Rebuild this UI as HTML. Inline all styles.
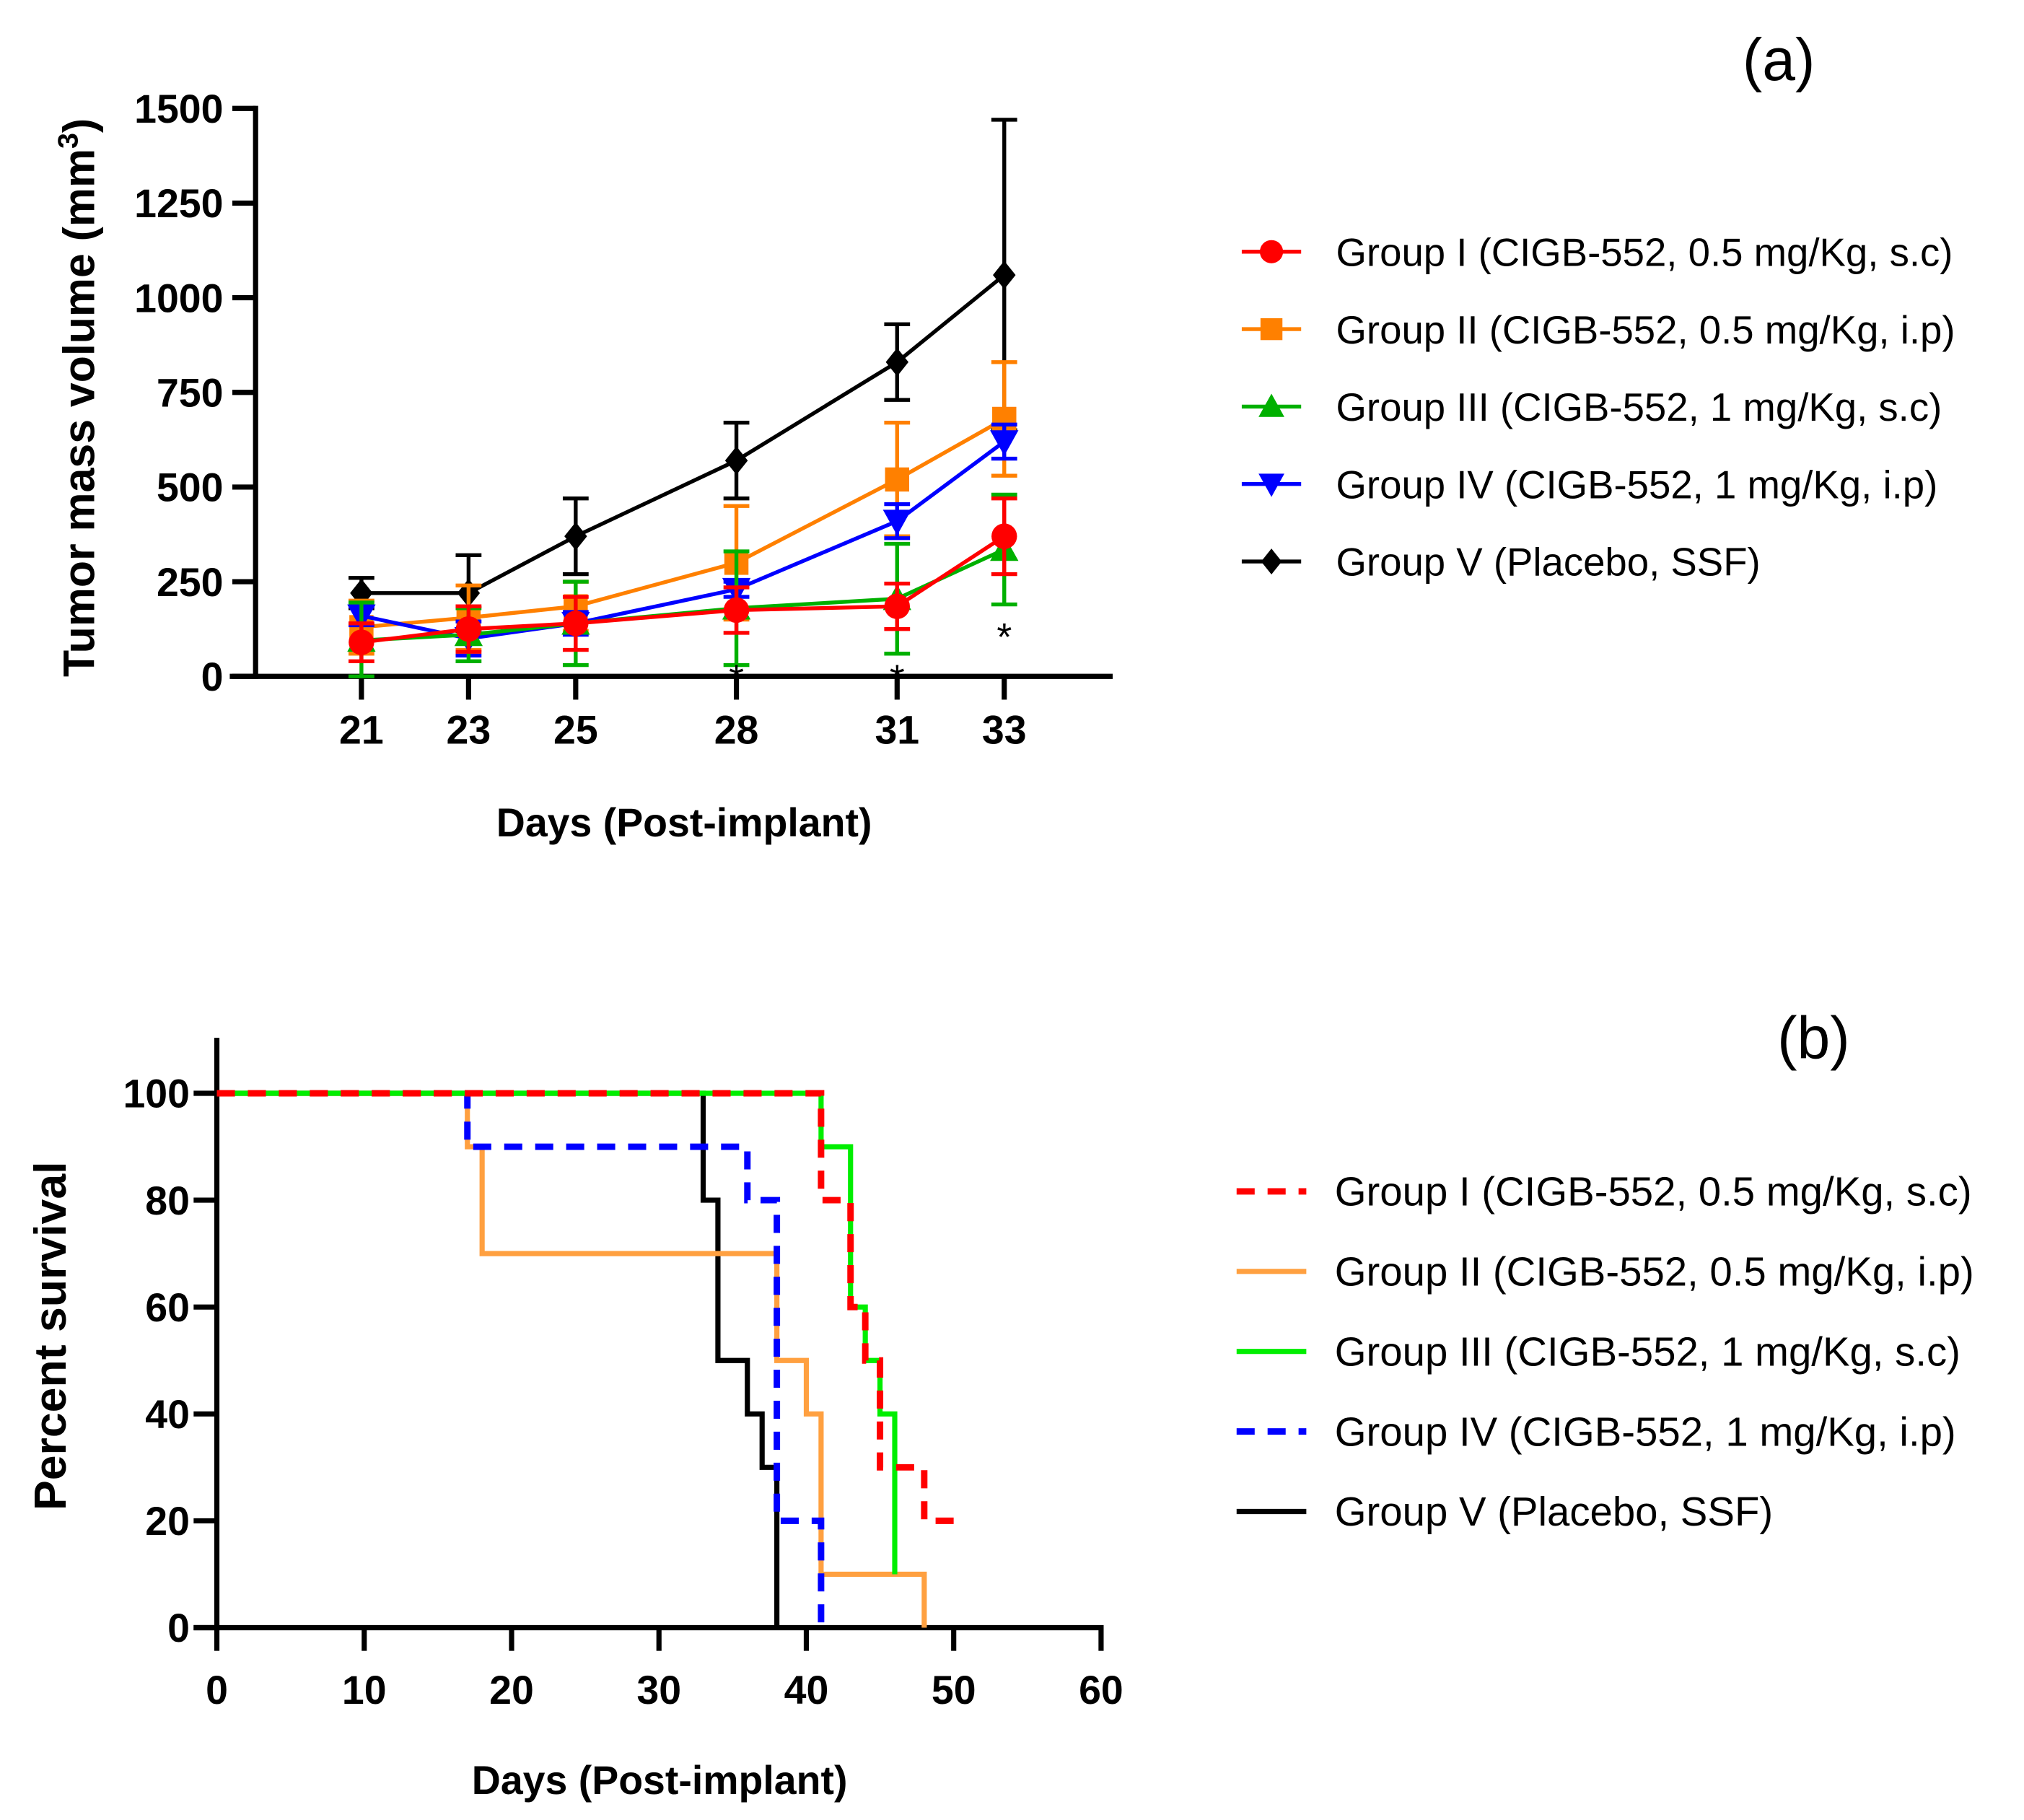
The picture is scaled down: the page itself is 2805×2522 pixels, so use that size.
<!DOCTYPE html>
<html><head><meta charset="utf-8"><style>
html,body{margin:0;padding:0;background:#fff}
svg{display:block}
text{font-family:"Liberation Sans",Arial,sans-serif}
</style></head><body>
<svg id="fig" width="2805" height="2522" viewBox="0 0 1568 1410" preserveAspectRatio="none" xmlns="http://www.w3.org/2000/svg">
<g id="top"></g>
<g id="bot"></g>
</svg>
<script>
// ---- Chart (a) data ----
const days = [21,23,25,28,31,33];
const yTicksA = [0,250,500,750,1000,1250,1500];
const g1 = [90,125,140,175,185,370];
const g1e = [50,60,70,60,60,100];
const g2 = [130,155,185,300,520,680];
const g2e = [70,85,65,150,150,150];
const g3 = [95,110,140,180,205,335];
const g3e = [100,70,110,150,145,145];
const g4 = [160,100,140,230,410,620];
const g4e = [25,45,30,20,45,45];
const g5 = [220,220,370,570,830,1060];
const g5e = [40,100,100,100,100,410];
const starDays = [28,31,33];
const starVals = [0,0,110];
const legendA = ["Group I (CIGB-552, 0.5 mg/Kg, s.c)","Group II (CIGB-552, 0.5 mg/Kg, i.p)","Group III (CIGB-552, 1 mg/Kg, s.c)","Group IV (CIGB-552, 1 mg/Kg, i.p)","Group V (Placebo, SSF)"];
// ---- Chart (b) data ----
const xTicksB = [0,10,20,30,40,50,60];
const yTicksB = [0,20,40,60,80,100];
const s1t = [0,41,43,44,45,48,50], s1v = [100,80,60,50,30,20,20];
const s2t = [0,17,18,38,40,41,48], s2v = [100,90,70,50,40,10,0];
const s3t = [0,41,43,44,45,46], s3v = [100,90,60,50,40,10];
const s4t = [0,17,36,38,41], s4v = [100,90,80,20,0];
const s5t = [0,33,34,36,37,38], s5v = [100,80,50,40,30,0];

const NS="http://www.w3.org/2000/svg";
function mk(parent,tag,attrs,txt){const e=document.createElementNS(NS,tag);for(const k in attrs)e.setAttribute(k,attrs[k]);if(txt!==undefined)e.textContent=txt;parent.appendChild(e);return e;}

// ===== Chart (a) =====
const A=document.getElementById('top');
const xA=d=>280+(d-21)*41.5;
const yA=v=>524-v*(440/1500);
let e;
e=mk(A,'line',{x1:198,y1:82,x2:198,y2:526,stroke:'#000','stroke-width':4});


e=mk(A,'line',{x1:178,y1:524,x2:862,y2:524,stroke:'#000','stroke-width':4});


yTicksA.forEach(v=>{
  mk(A,'line',{x1:180,y1:yA(v),x2:198,y2:yA(v),stroke:'#000','stroke-width':4});
  e=mk(A,'text',{x:173,y:yA(v)+11,'text-anchor':'end','font-size':31,'font-weight':'bold'},String(v));
  
  
});
days.forEach(d=>{
  mk(A,'line',{x1:xA(d),y1:524,x2:xA(d),y2:542,stroke:'#000','stroke-width':4});
  e=mk(A,'text',{x:xA(d),y:576,'text-anchor':'middle','font-size':31,'font-weight':'bold'},String(d));
  
  
});
e=mk(A,'text',{x:530,y:648,'text-anchor':'middle','font-size':31,'font-weight':'bold'},'Days (Post-implant)');


e=mk(A,'text',{transform:'translate(73,308) rotate(-90)','text-anchor':'middle','font-size':34,'font-weight':'bold'});
e.innerHTML='Tumor mass volume (mm<tspan dy="-13" font-size="22">3</tspan><tspan dy="13">)</tspan>';



function marker(p,type,x,y,c,s){
  if(type==='circle')return mk(p,'circle',{cx:x,cy:y,r:s*0.9,fill:c});
  if(type==='square')return mk(p,'rect',{x:x-s*0.85,y:y-s*0.85,width:s*1.7,height:s*1.7,fill:c});
  if(type==='up')return mk(p,'polygon',{points:`${x},${y-s} ${x-s},${y+s*0.8} ${x+s},${y+s*0.8}`,fill:c});
  if(type==='down')return mk(p,'polygon',{points:`${x},${y+s} ${x-s},${y-s*0.8} ${x+s},${y-s*0.8}`,fill:c});
  return mk(p,'polygon',{points:`${x},${y-s} ${x+s*0.8},${y} ${x},${y+s} ${x-s*0.8},${y}`,fill:c});
}
const seriesA=[
 {n:'group-v',v:g5,e:g5e,c:'#000',m:'diamond'},
 {n:'group-ii',v:g2,e:g2e,c:'#ff8000',m:'square'},
 {n:'group-iv',v:g4,e:g4e,c:'#0000ff',m:'down'},
 {n:'group-iii',v:g3,e:g3e,c:'#00b000',m:'up'},
 {n:'group-i',v:g1,e:g1e,c:'#ff0000',m:'circle'}];
seriesA.forEach(s=>{
  const g=mk(A,'g',{});
  
  
  days.forEach((d,i)=>{
    const x=xA(d),lo=Math.max(0,s.v[i]-s.e[i]),hi=s.v[i]+s.e[i];
    mk(g,'line',{x1:x,y1:yA(lo),x2:x,y2:yA(hi),stroke:s.c,'stroke-width':3});
    mk(g,'line',{x1:x-10,y1:yA(hi),x2:x+10,y2:yA(hi),stroke:s.c,'stroke-width':3});
    mk(g,'line',{x1:x-10,y1:yA(lo),x2:x+10,y2:yA(lo),stroke:s.c,'stroke-width':3});
  });
  mk(g,'polyline',{points:days.map((d,i)=>xA(d)+','+yA(s.v[i])).join(' '),fill:'none',stroke:s.c,'stroke-width':3});
  days.forEach((d,i)=>{
    const m=marker(g,s.m,xA(d),yA(s.v[i]),s.c,11);
    
    
  });
});
starDays.forEach((d,i)=>{
  e=mk(A,'text',{x:xA(d),y:yA(starVals[i])+12,'text-anchor':'middle','font-size':30},'*');
  
  
});
const legMarks=['circle','square','up','down','diamond'];
const legColA=['#ff0000','#ff8000','#00b000','#0000ff','#000'];
legendA.forEach((t,i)=>{
  const y=195+i*60;
  const g=mk(A,'g',{});
  
  
  mk(g,'line',{x1:962,y1:y,x2:1008,y2:y,stroke:legColA[i],'stroke-width':3});
  marker(g,legMarks[i],985,y,legColA[i],10);
  mk(g,'text',{x:1035,y:y+11,'font-size':30.5},t);
});
e=mk(A,'text',{x:1378,y:62,'text-anchor':'middle','font-size':46,'font-family':'Liberation Serif, serif'},'(a)');



// ===== Chart (b) =====
const B=document.getElementById('bot');
const xB=t=>168+t*(685/60);
const yB=v=>1261-v*4.14;
e=mk(B,'line',{x1:168,y1:804,x2:168,y2:1263,stroke:'#000','stroke-width':4});


e=mk(B,'line',{x1:150,y1:1261,x2:855,y2:1261,stroke:'#000','stroke-width':4});


yTicksB.forEach(v=>{
  mk(B,'line',{x1:150,y1:yB(v),x2:168,y2:yB(v),stroke:'#000','stroke-width':4});
  e=mk(B,'text',{x:147,y:yB(v)+11,'text-anchor':'end','font-size':31,'font-weight':'bold'},String(v));
  
  
});
xTicksB.forEach(t=>{
  mk(B,'line',{x1:xB(t),y1:1261,x2:xB(t),y2:1279,stroke:'#000','stroke-width':4});
  e=mk(B,'text',{x:xB(t),y:1320,'text-anchor':'middle','font-size':31,'font-weight':'bold'},String(t));
  
  
});
e=mk(B,'text',{x:511,y:1390,'text-anchor':'middle','font-size':31,'font-weight':'bold'},'Days (Post-implant)');


e=mk(B,'text',{transform:'translate(51,1035) rotate(-90)','text-anchor':'middle','font-size':35,'font-weight':'bold'},'Percent survival');


function stepPts(ts,vs){let p=[];for(let i=0;i<ts.length;i++){if(i>0)p.push(xB(ts[i])+','+yB(vs[i-1]));p.push(xB(ts[i])+','+yB(vs[i]));}return p.join(' ');}
const seriesB=[
 {n:'group-v',t:s5t,v:s5v,c:'#000',d:null},
 {n:'group-ii',t:s2t,v:s2v,c:'#ffa040',d:null},
 {n:'group-iv',t:s4t,v:s4v,c:'#0000ff',d:'14 10'},
 {n:'group-iii',t:s3t,v:s3v,c:'#00ee00',d:null},
 {n:'group-i',t:s1t,v:s1v,c:'#ff0000',d:'14 10'}];
seriesB.forEach(s=>{
  const a={points:stepPts(s.t,s.v),fill:'none',stroke:s.c,'stroke-width':s.d?5:4};
  if(s.d)a['stroke-dasharray']=s.d;
  e=mk(B,'polyline',a);
  
  
});
const legColB=['#ff0000','#ffa040','#00ee00','#0000ff','#000'];
const legDashB=['14 10',null,null,'14 10',null];
legendA.forEach((t,i)=>{
  const y=923+i*62;
  const g=mk(B,'g',{});
  
  
  const a={x1:958,y1:y,x2:1012,y2:y,stroke:legColB[i],'stroke-width':legDashB[i]?5:4};
  if(legDashB[i])a['stroke-dasharray']=legDashB[i];
  mk(g,'line',a);
  mk(g,'text',{x:1034,y:y+11,'font-size':31.5},t);
});
e=mk(B,'text',{x:1405,y:820,'text-anchor':'middle','font-size':46,'font-family':'Liberation Serif, serif'},'(b)');


</script>
</body></html>
